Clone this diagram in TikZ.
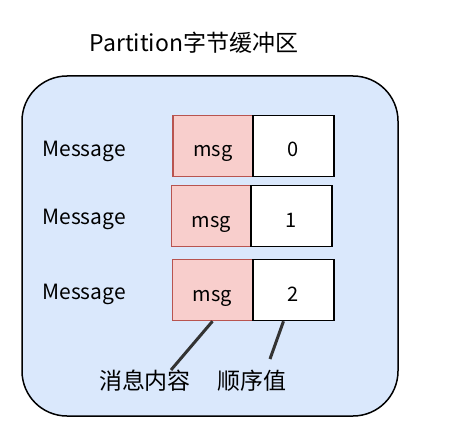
\documentclass[tikz,border=0pt]{standalone}
\usepackage{fontspec}
\setmainfont{Noto Sans CJK SC}
\usetikzlibrary{calc}
\definecolor{bufblue}{HTML}{DAE8FC}
\definecolor{msgpink}{HTML}{F8CECC}
\definecolor{msgred}{HTML}{B85450}
\definecolor{pointer}{HTML}{333333}
\tikzset{
  msgbox/.style={draw=msgred, fill=msgpink, line width=1.5pt, minimum width=80pt, minimum height=61pt, inner sep=0pt, text height=26pt, text depth=4pt, font=\fontsize{20}{20}\selectfont},
  numbox/.style={draw=black, fill=white, line width=1.5pt, minimum width=81pt, minimum height=61pt, inner sep=0pt, text height=26pt, text depth=4pt, font=\fontsize{20}{20}\selectfont},
  msglabel/.style={font=\fontsize{21}{21}\selectfont},
  note/.style={font=\fontsize{23}{23}\selectfont}
}
\begin{document}
\begin{tikzpicture}[x=1pt,y=-1pt]
\useasboundingbox (0,0) rectangle (472,428);

% Buffer
\node at (194,43) [font=\fontsize{23}{23}\selectfont] (title) {Partition字节缓冲区};
\draw[fill=bufblue, line width=1.5pt, rounded corners=45pt] (22,76) rectangle (398,416);

% Row 0
\node[msglabel] (lab0) at (84,151) {Message};
\node[msgbox] (msg0) at (213,146) {msg};
\node[numbox] (num0) at (293.5,146) {0};

% Row 1
\node[msglabel] (lab1) at (84,219) {Message};
\node[msgbox] (msg1) at (211.5,216) {msg};
\node[numbox] (num1) at (291.5,216) {1};

% Row 2
\node[msglabel] (lab2) at (84,294) {Message};
\node[msgbox] (msg2) at (212.5,290) {msg};
\node[numbox] (num2) at (293.5,290) {2};

% Notes
\node[note] (content) at (145,381) {消息内容};
\node[note] (order) at (252,381) {顺序值};
\coordinate (contentend) at (171,370);
\coordinate (orderend) at (270,359);
\draw[pointer, line width=3pt] (msg2.south) -- (contentend);
\draw[pointer, line width=3pt] ($(num2.south)+(-10,0)$) -- (orderend);
\end{tikzpicture}
\end{document}
